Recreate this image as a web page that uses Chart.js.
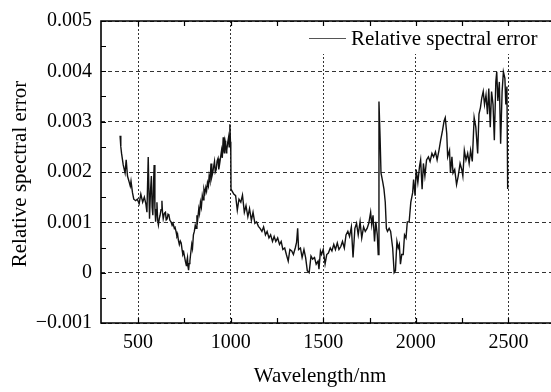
<!DOCTYPE html>
<html>
<head>
<meta charset="utf-8">
<script src="https://cdn.jsdelivr.net/npm/chart.js@4"></script>
<style>
html,body{margin:0;padding:0;background:#fff;overflow:hidden;}
#wrap{width:551px;height:392px;}
</style>
</head>
<body>
<div id="wrap"><canvas id="c" width="551" height="392"></canvas></div>
<script>
const seriesLabel = "Relative spectral error";
const xTitle = "Wavelength/nm";
const yTitle = "Relative spectral error";
const xMajorTicks = [500, 1000, 1500, 2000, 2500];
const xMinorTicks = [750, 1250, 1750, 2250];
const yTickValues = [-0.001, 0, 0.001, 0.002, 0.003, 0.004, 0.005];
const yTickLabels = ["\u22120.001", "0", "0.001", "0.002", "0.003", "0.004", "0.005"];
const yMinorTicks = [-0.0005, 0.0005, 0.0015, 0.0025, 0.0035, 0.0045];

const wavelength = [
403,407,411,420,430,436,443,453,458,462,470,477,487,496,506,515,525,534,542,548,
555,562,567,572,576,580,584,587,591,595,599,602,606,610,615,619,624,629,632,636,
642,648,652,657,662,667,672,678,684,689,696,700,705,710,714,718,723,728,733,738,
742,747,752,756,761,764,767,770,773,776,780,785,790,794,799,804,809,813,818,822,
828,832,837,842,847,851,856,861,866,870,875,880,884,889,894,898,903,908,913,917,
922,927,932,936,941,946,951,955,960,963,966,970,973,976,979,984,989,992,996,999,
1001,1002,1008,1017,1027,1036,1045,1055,1064,1074,1083,1093,1102,1112,1121,1131,1140,1150,1159,1169,
1178,1188,1197,1207,1216,1226,1235,1244,1254,1264,1273,1282,1292,1301,1311,1320,1330,1339,1349,1356,
1362,1367,1377,1386,1396,1405,1414,1424,1434,1443,1453,1462,1472,1477,1485,1491,1500,1510,1519,1528,
1538,1547,1557,1566,1576,1585,1595,1604,1614,1623,1633,1642,1652,1661,1671,1680,1689,1699,1708,1718,
1727,1737,1746,1756,1762,1769,1777,1784,1792,1797,1801,1807,1812,1822,1828,1835,1841,1847,1856,1864,
1875,1883,1890,1898,1905,1911,1917,1924,1932,1939,1947,1954,1964,1973,1983,1988,1996,2002,2011,2020,
2026,2034,2041,2049,2058,2068,2077,2087,2096,2106,2115,2125,2134,2144,2153,2159,2167,2172,2182,2187,
2195,2201,2210,2220,2229,2239,2248,2254,2262,2271,2280,2288,2296,2305,2315,2324,2334,2341,2349,2356,
2364,2371,2379,2387,2394,2402,2409,2417,2424,2432,2437,2443,2451,2458,2466,2473,2481,2486,2492,2496
];
const relError = [
0.00272,0.00250,0.00237,0.00214,0.00198,0.00224,0.00192,0.00179,0.00172,0.00182,0.00159,0.00146,0.00143,0.00146,0.00137,0.00156,0.00140,0.00150,0.00137,0.00120,
0.00230,0.00107,0.00160,0.00192,0.00130,0.00114,0.00180,0.00214,0.00130,0.00101,0.00125,0.00140,0.00105,0.00095,0.00108,0.00114,0.00125,0.00143,0.00120,0.00107,
0.00118,0.00120,0.00105,0.00107,0.00116,0.00114,0.00104,0.00101,0.00094,0.00098,0.00088,0.00090,0.00082,0.00072,0.00075,0.00064,0.00056,0.00063,0.00059,0.00045,
0.00036,0.00040,0.00030,0.00022,0.00014,0.00024,0.00030,0.00012,0.00005,0.00018,0.00023,0.00040,0.00056,0.00048,0.00075,0.00082,0.00094,0.00088,0.00114,0.00105,
0.00127,0.00118,0.00140,0.00130,0.00153,0.00145,0.00166,0.00158,0.00169,0.00162,0.00179,0.00172,0.00192,0.00182,0.00217,0.00190,0.00198,0.00210,0.00221,0.00200,
0.00205,0.00222,0.00227,0.00205,0.00217,0.00230,0.00243,0.00228,0.00269,0.00245,0.00237,0.00262,0.00256,0.00238,0.00243,0.00258,0.00269,0.00250,0.00295,0.00260,
0.00237,0.00166,0.00162,0.00156,0.00153,0.00124,0.00146,0.00140,0.00154,0.00120,0.00133,0.00111,0.00127,0.00104,0.00120,0.00098,0.00101,0.00092,0.00088,0.00082,
0.00091,0.00075,0.00082,0.00069,0.00075,0.00062,0.00072,0.00062,0.00069,0.00056,0.00062,0.00046,0.00049,0.00036,0.00023,0.00046,0.00043,0.00036,0.00049,0.00060,
0.00088,0.00046,0.00049,0.00030,0.00046,0.00030,0.00004,0.00000,0.00033,0.00027,0.00030,0.00017,0.00023,0.00007,0.00043,0.00036,0.00046,0.00017,0.00036,0.00039,
0.00049,0.00043,0.00056,0.00046,0.00059,0.00046,0.00052,0.00062,0.00049,0.00075,0.00082,0.00072,0.00091,0.00030,0.00088,0.00098,0.00075,0.00101,0.00069,0.00091,
0.00082,0.00088,0.00098,0.00120,0.00095,0.00114,0.00062,0.00101,0.00075,0.00036,0.00340,0.00269,0.00198,0.00179,0.00166,0.00140,0.00088,0.00082,0.00088,0.00082,
0.00049,0.00000,0.00004,0.00062,0.00049,0.00056,0.00017,0.00036,0.00036,0.00075,0.00069,0.00101,0.00101,0.00140,0.00159,0.00185,0.00153,0.00205,0.00179,0.00211,
0.00224,0.00166,0.00217,0.00192,0.00224,0.00230,0.00221,0.00237,0.00230,0.00240,0.00224,0.00243,0.00263,0.00282,0.00302,0.00308,0.00276,0.00230,0.00243,0.00198,
0.00230,0.00198,0.00205,0.00175,0.00192,0.00217,0.00205,0.00192,0.00243,0.00224,0.00237,0.00217,0.00243,0.00221,0.00308,0.00289,0.00237,0.00315,0.00328,0.00347,
0.00360,0.00334,0.00353,0.00315,0.00366,0.00289,0.00360,0.00334,0.00263,0.00379,0.00399,0.00341,0.00379,0.00256,0.00360,0.00399,0.00386,0.00334,0.00370,0.00166
];

const serif = "'Liberation Serif', 'Times New Roman', Times, serif";
const lineColor = '#111';
Chart.defaults.font.family = serif;
Chart.defaults.color = '#000';

const overlay = {
  id: 'overlay',
  afterDatasetsDraw(chart) {
    const ctx = chart.ctx, a = chart.chartArea;
    ctx.save();
    ctx.fillStyle = '#fff';
    ctx.fillRect(300, a.top + 1, a.right - 300, 32);
    ctx.strokeStyle = '#555';
    ctx.lineWidth = 1.2;
    ctx.beginPath();
    ctx.moveTo(309, 38.5);
    ctx.lineTo(346, 38.5);
    ctx.stroke();
    ctx.fillStyle = '#000';
    ctx.font = '21px ' + serif;
    ctx.textAlign = 'left';
    ctx.textBaseline = 'middle';
    ctx.fillText(chart.data.datasets[0].label, 351, 39);
    ctx.restore();
  },
  afterDraw(chart) {
    const ctx = chart.ctx, a = chart.chartArea;
    const xs = chart.scales.x, ys = chart.scales.y;
    ctx.save();
    ctx.strokeStyle = '#000';
    ctx.lineWidth = 1.6;
    ctx.beginPath();
    ctx.moveTo(a.right + 2, a.top);
    ctx.lineTo(a.left, a.top);
    ctx.lineTo(a.left, a.bottom);
    ctx.lineTo(a.right + 2, a.bottom);
    ctx.stroke();
    ctx.lineWidth = 1.2;
    ctx.beginPath();
    xMajorTicks.concat(xMinorTicks).forEach(v => {
      const p = Math.round(xs.getPixelForValue(v)) + 0.5;
      ctx.moveTo(p, a.bottom); ctx.lineTo(p, a.bottom - 5);
      ctx.moveTo(p, a.top); ctx.lineTo(p, a.top + 5);
    });
    yTickValues.concat(yMinorTicks).forEach(v => {
      const p = Math.round(ys.getPixelForValue(v)) + 0.5;
      ctx.moveTo(a.left, p); ctx.lineTo(a.left + 5, p);
    });
    ctx.stroke();
    ctx.fillStyle = '#000';
    ctx.font = '21px ' + serif;
    ctx.textAlign = 'center';
    ctx.textBaseline = 'middle';
    ctx.fillText(xTitle, 320, 376);
    ctx.translate(20, 174);
    ctx.rotate(-Math.PI / 2);
    ctx.fillText(yTitle, 0, 0);
    ctx.restore();
  }
};

new Chart(document.getElementById('c'), {
  type: 'line',
  data: {
    datasets: [{
      label: seriesLabel,
      data: wavelength.map((w, i) => ({ x: w, y: relError[i] })),
      borderColor: lineColor,
      borderWidth: 1.4,
      pointRadius: 0,
      tension: 0,
      fill: false
    }]
  },
  options: {
    responsive: false,
    animation: false,
    events: [],
    layout: { padding: { top: 15, right: 0, left: 0, bottom: 0 } },
    plugins: { legend: { display: false }, tooltip: { enabled: false } },
    scales: {
      x: {
        type: 'linear',
        min: 300,
        max: 2730,
        afterBuildTicks: s => { s.ticks = xMajorTicks.map(v => ({ value: v })); },
        afterFit: s => { s.height = 69; },
        ticks: { color: '#000', font: { family: serif, size: 20 }, padding: 8, maxRotation: 0, autoSkip: false,
                 callback: v => String(v) },
        grid: { color: '#333', lineWidth: 1, drawTicks: false },
        border: { display: false, dash: [2, 2] }
      },
      y: {
        min: -0.001,
        max: 0.005,
        afterBuildTicks: s => { s.ticks = yTickValues.map(v => ({ value: v })); },
        afterFit: s => { s.width = 101; },
        ticks: { color: '#000', font: { family: serif, size: 20 }, padding: 9, autoSkip: false,
                 callback: (v, i) => yTickLabels[i] },
        grid: { color: '#333', lineWidth: 1, drawTicks: false },
        border: { display: false, dash: [4, 3] }
      }
    }
  },
  plugins: [overlay]
});
</script>
</body>
</html>
